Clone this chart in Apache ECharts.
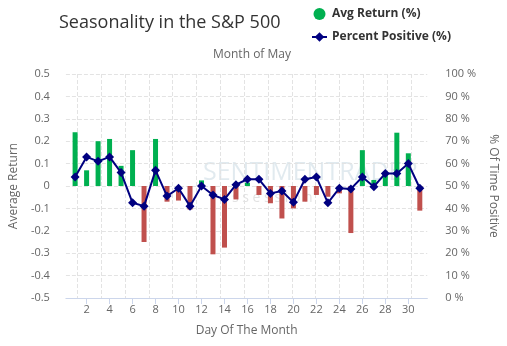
<!DOCTYPE html>
<html><head><meta charset="utf-8">
<script src="https://cdn.jsdelivr.net/npm/echarts@6/dist/echarts.min.js"></script>
<style>html,body{margin:0;padding:0;background:#fff}#c{width:507px;height:346px}</style>
</head><body><div id="c"></div>
<script>
const days = [1,2,3,4,5,6,7,8,9,10,11,12,13,14,15,16,17,18,19,20,21,22,23,24,25,26,27,28,29,30,31];
const avgReturn = [0.24,0.07,0.20,0.21,0.09,0.16,-0.25,0.21,-0.07,-0.065,-0.105,0.025,-0.305,-0.275,-0.06,0.015,-0.04,-0.077,-0.145,-0.10,-0.07,-0.04,-0.048,-0.033,-0.21,0.16,0.027,0.064,0.238,0.146,-0.11];
const pctPositive = [54,63,61,63,56,42.5,41,57,45.5,49,41,50,46,44,50.6,53,53,46.7,47.8,42.7,53,54,42.5,49,48.7,54,49.7,55.6,55.6,60,49];
const xTicks = [2,4,6,8,10,12,14,16,18,20,22,24,26,28,30];

const GREEN = '#00b050', RED = '#c0504d', NAVY = '#000080';
const GRIDC = '#e3e3e3';
const chart = echarts.init(document.getElementById('c'), null, {renderer:'canvas'});
const font = '"Open Sans", sans-serif';
chart.setOption({
  animation:false,
  textStyle:{fontFamily:font},
  title:[
    {text:'Seasonality in the S&P 500', left:54, top:9, textStyle:{fontFamily:font, fontSize:18, fontWeight:'normal', color:'#333'}},
    {text:'Month of May', top:44, left:208, textStyle:{fontFamily:font, fontSize:12, fontWeight:'normal', color:'#666'}}
  ],
  legend:{
    orient:'vertical', left:306, top:3, itemGap:11, itemWidth:15, itemHeight:12,
    textStyle:{fontFamily:font, fontSize:12, fontWeight:'bold', color:'#333'},
    data:[{name:'Avg Return (%)', icon:'circle', itemStyle:{color:GREEN}},{name:'Percent Positive (%)'}]
  },
  graphic:[
    {type:'text', left:203, top:160, silent:true, z:0, style:{text:'SENTIMENTRADER', fontFamily:font, fontSize:25, fill:'rgba(170,195,210,0.35)'}},
    {type:'text', left:232, top:191, silent:true, z:0, style:{text:'s s e s s i o n', fontFamily:font, fontSize:14, fill:'rgba(160,160,160,0.3)'}}
  ],
  grid:[
    {left:56, right:76, top:74, bottom:48},
    {left:53.5, right:72.2, top:74, bottom:48}
  ],
  xAxis:[
    {type:'value', gridIndex:0, min:0.2, max:31.65,
     name:'Day Of The Month', nameLocation:'middle', nameGap:27,
     nameTextStyle:{fontFamily:font, fontSize:12, color:'#666'},
     axisLine:{show:true, onZero:false, lineStyle:{color:'#ccd6eb'}},
     axisTick:{show:true, length:6, customValues:xTicks, lineStyle:{color:'#ccd6eb'}},
     axisLabel:{customValues:xTicks, color:'#666', fontSize:11, margin:6, fontFamily:font},
     splitLine:{show:false}},
    {type:'value', gridIndex:1, min:0, max:32, interval:2,
     axisLine:{show:false}, axisTick:{show:false}, axisLabel:{show:false},
     splitLine:{show:true, showMinLine:false, showMaxLine:false, lineStyle:{type:'dashed', color:GRIDC}}}
  ],
  yAxis:[
    {type:'value', gridIndex:0, min:-0.5, max:0.5, interval:0.1,
     name:'Average Return', nameLocation:'middle', nameGap:42, nameRotate:90,
     nameTextStyle:{fontFamily:font, fontSize:12, color:'#666'},
     axisLine:{show:false}, axisTick:{show:false},
     axisLabel:{color:'#666', fontSize:11, fontFamily:font, margin:16, formatter:v=>String(Math.round(v*10)/10)},
     splitLine:{show:true, lineStyle:{type:'dashed', color:GRIDC}}},
    {type:'value', gridIndex:0, min:0, max:100, interval:10, position:'right',
     name:'% Of Time Positive', nameLocation:'middle', nameGap:52, nameRotate:-90,
     nameTextStyle:{fontFamily:font, fontSize:12, color:'#666'},
     axisLine:{show:false}, axisTick:{show:false},
     axisLabel:{color:'#666', fontSize:11, fontFamily:font, margin:18, formatter:'{value} %'},
     splitLine:{show:false}},
    {type:'value', gridIndex:1, min:0, max:1, show:false, splitLine:{show:false}}
  ],
  series:[
    {name:'Avg Return (%)', type:'bar', xAxisIndex:0, yAxisIndex:0, barWidth:5, z:2,
     itemStyle:{color:GREEN},
     data: days.map((d,i)=>({value:[d, avgReturn[i]], itemStyle:{color: avgReturn[i] >= 0 ? GREEN : RED}}))},
    {name:'Percent Positive (%)', type:'line', xAxisIndex:0, yAxisIndex:1, z:3,
     symbol:'diamond', symbolSize:9, lineStyle:{color:NAVY, width:2}, itemStyle:{color:NAVY},
     data: days.map((d,i)=>[d, pctPositive[i]])}
  ]
});
</script></body></html>
